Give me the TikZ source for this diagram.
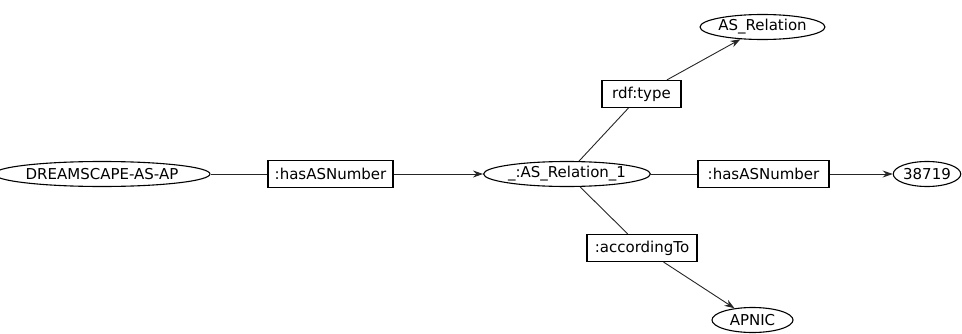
\documentclass[tikz,border=0pt]{standalone}
\usepackage{fontspec}
\setmainfont{DejaVu Sans}
\usetikzlibrary{shapes.geometric,arrows.meta}
\begin{document}
\begin{tikzpicture}[x=1pt,y=1pt,
  lbl/.style={font=\fontsize{15}{18}\selectfont},
  res/.style={lbl,ellipse,draw=black,line width=1.1pt,inner sep=0pt,minimum height=25pt},
  prop/.style={lbl,rectangle,draw=black,line width=1.1pt,inner sep=0pt,minimum height=27pt},
  edge/.style={draw=black!85,line width=0.9pt},
  arr/.style={edge,-{Stealth[length=10pt,width=7pt]}}]
\useasboundingbox (0,0) rectangle (962,333);
\node[res,minimum width=188pt] (d) at (102,159) {DREAMSCAPE-AS-AP};
\node[prop,minimum width=125pt] (p1) at (330.5,159) {:hasASNumber};
\node[res,minimum width=142pt] (r) at (567,159) {\_:AS\_Relation\_1};
\node[prop,minimum width=131pt] (p2) at (763.5,159) {:hasASNumber};
\node[res,minimum width=66pt] (n) at (927,159) {38719};
\node[prop,minimum width=79pt] (p3) at (641.5,239) {rdf:type};
\node[res,minimum width=107pt] (c) at (762.5,306) {AS\_Relation};
\node[prop,minimum width=110pt] (p4) at (642,85) {:accordingTo};
\node[res,minimum width=81pt] (a) at (752.5,13) {APNIC};
\draw[edge] (d) -- (p1);
\draw[arr] (p1) -- (r);
\draw[edge] (r) -- (p2);
\draw[arr] (p2) -- (n);
\draw[edge] (r) -- (p3);
\draw[arr] (p3) -- (c);
\draw[edge] (r) -- (p4);
\draw[arr] (p4) -- (a);
\end{tikzpicture}
\end{document}
